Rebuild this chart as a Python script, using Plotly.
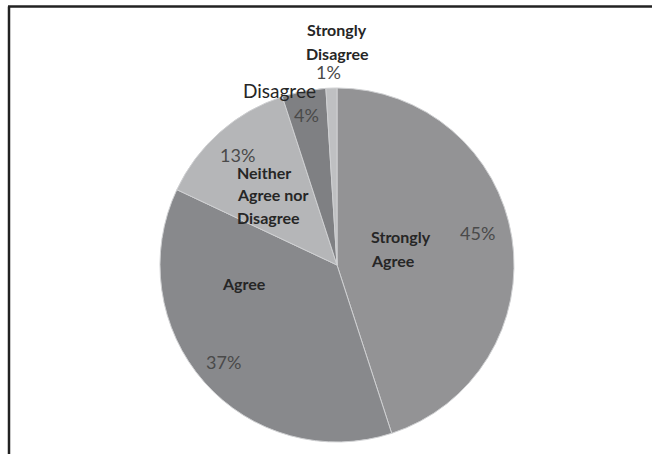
import plotly.graph_objects as go

# Survey responses (share of respondents, %)
categories = ["Strongly Agree", "Agree", "Neither Agree nor Disagree", "Disagree", "Strongly Disagree"]
shares = [45, 37, 13, 4, 1]
slice_colors = ["#939395", "#88898c", "#b5b6b8", "#7f8083", "#bfc0c2"]

# Category names as they are broken over lines next to each slice
name_lines = [
    ["Strongly", "Agree"],
    ["Agree"],
    ["Neither", "Agree nor", "Disagree"],
    ["Disagree"],
    ["Strongly", "Disagree"],
]

W, H = 652, 454

fig = go.Figure(
    go.Pie(
        labels=categories,
        values=shares,
        sort=False,
        direction="clockwise",
        rotation=0,
        marker=dict(colors=slice_colors, line=dict(color="#cfd0d2", width=1)),
        textinfo="none",
        hoverinfo="label+percent",
        showlegend=False,
        domain=dict(x=[160 / W, 514 / W], y=[1 - 442 / H, 1 - 88 / H]),
    )
)

# Label layout (pixel positions): name block anchor, line spacing, alignment, percent anchor
label_layout = [
    dict(name=(369, 236), step=24, anchor="left", bold=True, size=16, pct=(477, 233)),
    dict(name=(220, 283), step=0, anchor="left", bold=True, size=16, pct=(223, 362)),
    dict(name=(235, 172), step=22.5, anchor="left", bold=True, size=16, pct=(237, 155)),
    dict(name=(279, 90), step=0, anchor="center", bold=False, size=19, pct=(306, 115)),
    dict(name=(337, 30), step=23, anchor="center", bold=True, size=16, pct=(328, 72)),
]

font_family = "Lato, 'Open Sans', sans-serif"
annotations = []
for lines, share, lay in zip(name_lines, shares, label_layout):
    x0, y0 = lay["name"]
    for i, line in enumerate(lines):
        txt = f"<b>{line}</b>" if lay["bold"] else line
        annotations.append(dict(
            x=x0 / W, y=1 - (y0 + i * lay["step"]) / H,
            xref="paper", yref="paper",
            text=txt, showarrow=False,
            xanchor=lay["anchor"], yanchor="middle",
            font=dict(family=font_family, size=lay["size"], color="#262626"),
        ))
    px, py = lay["pct"]
    annotations.append(dict(
        x=px / W, y=1 - py / H, xref="paper", yref="paper",
        text=f"{share}%", showarrow=False,
        xanchor="center", yanchor="middle",
        font=dict(family=font_family, size=18, color="#4a4a4a"),
    ))

# Frame lines along the top and left edge
shapes = [
    dict(type="line", xref="paper", yref="paper",
         x0=8 / W, x1=1, y0=1 - 6.5 / H, y1=1 - 6.5 / H,
         line=dict(color="#222222", width=2.5)),
    dict(type="line", xref="paper", yref="paper",
         x0=9 / W, x1=9 / W, y0=1 - 6.5 / H, y1=0,
         line=dict(color="#222222", width=2.5)),
]

fig.update_layout(
    width=W, height=H,
    margin=dict(l=0, r=0, t=0, b=0),
    paper_bgcolor="white",
    plot_bgcolor="white",
    annotations=annotations,
    shapes=shapes,
)

fig.write_html("out.html")
